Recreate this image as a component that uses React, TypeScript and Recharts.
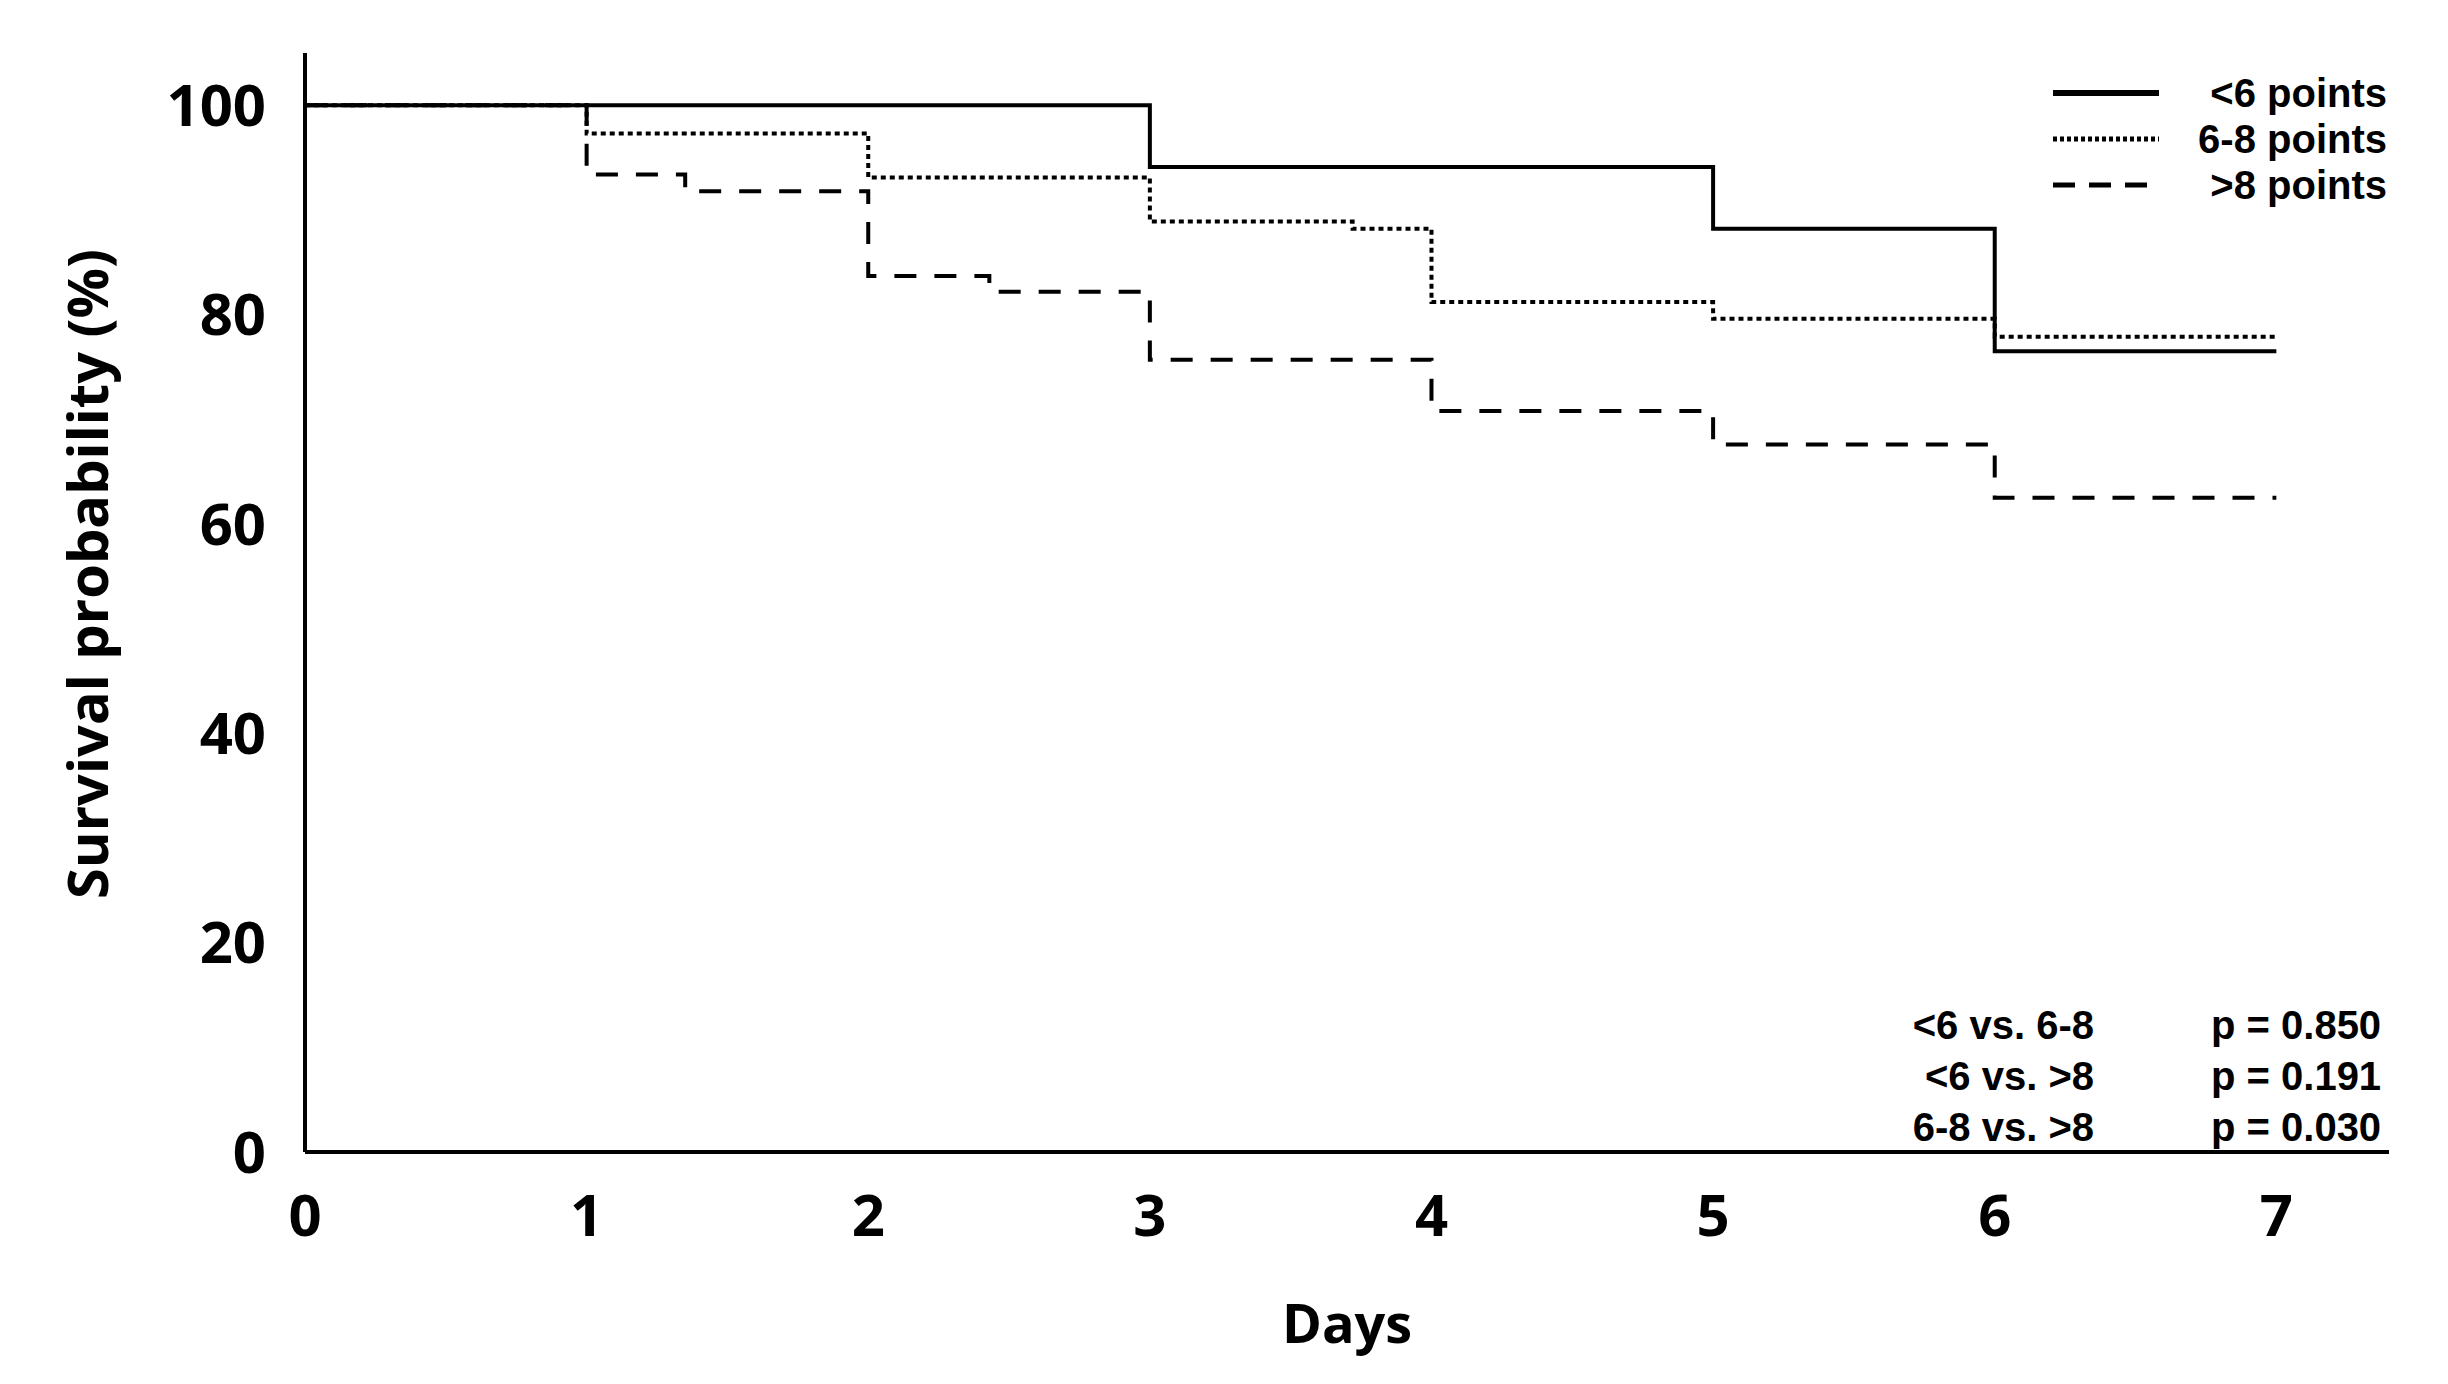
import { LineChart, Line, XAxis, YAxis, Legend, Label } from "recharts";

// Kaplan-Meier steps (day, survival %)
const DAY_TICKS = [0, 1, 2, 3, 4, 5, 6, 7];
const SURV_TICKS = [0, 20, 40, 60, 80, 100];

const lowDays = [0, 3, 5, 6, 7];
const lowSurv = [100, 94.1, 88.2, 76.5, 76.5];

const midDays = [0, 1, 2, 3, 3.72, 4, 5, 6, 7];
const midSurv = [100, 97.3, 93.1, 88.9, 88.2, 81.2, 79.6, 77.9, 77.9];

const highDays = [0, 1, 1.35, 2, 2.43, 3, 4, 5, 6, 7];
const highSurv = [100, 93.4, 91.8, 83.7, 82.2, 75.7, 70.8, 67.6, 62.5, 62.5];

const GROUPS = ["<6 points", "6-8 points", ">8 points"];
const COMPARISONS = ["<6 vs. 6-8", "<6 vs. >8", "6-8 vs. >8"];
const P_VALUES = ["p = 0.850", "p = 0.191", "p = 0.030"];

const toRows = (days: number[], surv: number[]) =>
  days.map((d, i) => ({ day: d, surv: surv[i] }));

const SERIES = [
  { name: GROUPS[0], data: toRows(lowDays, lowSurv), dash: undefined, keyDash: undefined },
  { name: GROUPS[1], data: toRows(midDays, midSurv), dash: "5 4", keyDash: "4 3" },
  { name: GROUPS[2], data: toRows(highDays, highSurv), dash: "22 18", keyDash: "22 14" },
];

const AXIS_FONT = { fill: "#000", fontSize: 58, fontWeight: 700, fontFamily: "Open Sans" };
const NOTE_FONT = { fill: "#000", fontSize: 40, fontWeight: 700, fontFamily: "Liberation Sans" };

function KeyAndStats() {
  return (
    <svg width={560} height={1100} style={{ display: "block" }}>
      {SERIES.map((s, i) => (
        <g key={s.name}>
          <line
            x1={173}
            x2={279}
            y1={33 + i * 46}
            y2={33 + i * 46}
            stroke="#000"
            strokeWidth={i === 0 ? 6 : 5}
            strokeDasharray={s.keyDash}
          />
          <text x={507} y={33 + i * 46} textAnchor="end" dominantBaseline="central" {...NOTE_FONT}>
            {s.name}
          </text>
        </g>
      ))}
      {COMPARISONS.map((c, i) => (
        <g key={c}>
          <text x={214} y={965 + i * 51} textAnchor="end" dominantBaseline="central" {...NOTE_FONT}>
            {c}
          </text>
          <text x={331} y={965 + i * 51} textAnchor="start" dominantBaseline="central" {...NOTE_FONT}>
            {P_VALUES[i]}
          </text>
        </g>
      ))}
    </svg>
  );
}

export default function App() {
  return (
    <div style={{ position: "absolute", left: 0, top: 0, background: "#fff" }}>
      <LineChart width={2448} height={1384} margin={{ top: 53, right: 59, left: 0, bottom: 0 }}>
        <XAxis
          dataKey="day"
          type="number"
          domain={[0, 7.4]}
          ticks={DAY_TICKS}
          tickLine={false}
          tickMargin={37}
          axisLine={{ stroke: "#000", strokeWidth: 4 }}
          tick={AXIS_FONT}
          height={232}
        >
          <Label value="Days" position="insideBottom" offset={41} style={{ ...AXIS_FONT, fontSize: 54 }} />
        </XAxis>
        <YAxis
          type="number"
          domain={[0, 105]}
          ticks={SURV_TICKS}
          tickLine={false}
          tickMargin={33}
          axisLine={{ stroke: "#000", strokeWidth: 4 }}
          tick={AXIS_FONT}
          width={305}
        >
          <Label
            content={() => (
              <text
                x={86}
                y={574}
                transform="rotate(-90 86 574)"
                textAnchor="middle"
                dominantBaseline="central"
                {...AXIS_FONT}
                fontSize={56}
              >
                Survival probability (%)
              </text>
            )}
          />
        </YAxis>
        {SERIES.map((s) => (
          <Line
            key={s.name}
            name={s.name}
            data={s.data}
            dataKey="surv"
            type="stepAfter"
            stroke="#000"
            strokeWidth={4}
            strokeDasharray={s.dash}
            dot={false}
            activeDot={false}
            isAnimationActive={false}
          />
        ))}
        <Legend
          layout="horizontal"
          verticalAlign="middle"
          align="center"
          content={() => <KeyAndStats />}
          wrapperStyle={{ left: 1880, top: 60, width: 560, height: 1100, pointerEvents: "none" }}
        />
      </LineChart>
    </div>
  );
}
